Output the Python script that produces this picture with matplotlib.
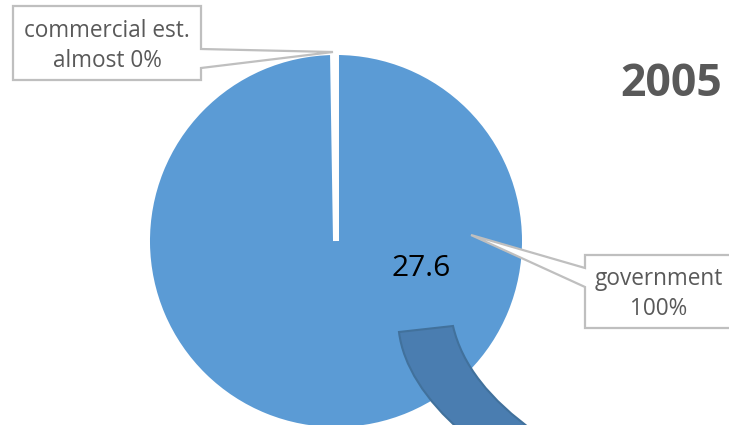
import matplotlib
matplotlib.use("Agg")
from matplotlib import pyplot as plt
from matplotlib.patches import Polygon, PathPatch
from matplotlib.path import Path

plt.rcParams['font.family'] = ['Open Sans', 'DejaVu Sans']

# data
categories = ['commercial est.', 'government']
values = [0.07, 27.6]
pct_labels = ['almost 0%', '100%']
year = '2005'

blue = '#5b9bd5'
grey_txt = '#595959'
grey_line = '#bfbfbf'

fig = plt.figure(figsize=(7.29, 4.25), dpi=100)
ax = fig.add_axes([0, 0, 1, 1])

# pie, in pixel coordinates (y axis goes down)
ax.pie(values, colors=[blue, blue], startangle=-90, counterclock=False,
       center=(336, 241), radius=189,
       wedgeprops=dict(edgecolor='white', linewidth=4.3))
ax.set_xlim(0, 729)
ax.set_ylim(425, 0)
ax.set_aspect('equal')
ax.axis('off')

# callout boxes
box1 = Polygon([(13, 6), (201, 6), (201, 49), (333, 52), (201, 68), (201, 80), (13, 80)],
               closed=True, facecolor='white', edgecolor=grey_line, linewidth=1.6, zorder=5)
ax.add_patch(box1)
ax.text(107, 46, categories[0] + '\n' + pct_labels[0], ha='center', va='center',
        color=grey_txt, fontsize=16.3, linespacing=1.3, zorder=6)

box2 = Polygon([(585, 255), (735, 255), (735, 328), (585, 328), (585, 287), (471, 235), (585, 268)],
               closed=True, facecolor='white', edgecolor=grey_line, linewidth=1.6, zorder=5)
ax.add_patch(box2)
ax.text(659, 294, categories[1] + '\n' + pct_labels[1], ha='center', va='center',
        color=grey_txt, fontsize=16.3, linespacing=1.3, zorder=6)

# value in the middle
ax.text(421, 268, str(values[1]), ha='center', va='center', color='black', fontsize=21.5, zorder=6)

# title
ax.text(671, 84, year, ha='center', va='center', color=grey_txt, fontsize=32,
        fontweight='bold', zorder=6)

# the curved arrow shape going out of the bottom
verts = [(399, 332), (453, 326), (462, 365), (490, 400), (535, 432),
         (462, 432), (425, 400), (403, 365), (399, 332), (399, 332)]
codes = [Path.MOVETO, Path.LINETO, Path.CURVE4, Path.CURVE4, Path.CURVE4,
         Path.LINETO, Path.CURVE4, Path.CURVE4, Path.CURVE4, Path.CLOSEPOLY]
ax.add_patch(PathPatch(Path(verts, codes), facecolor='#4a7db0', edgecolor='#41719c',
                       linewidth=1.5, zorder=4))

fig.savefig('out.png', dpi=100)
